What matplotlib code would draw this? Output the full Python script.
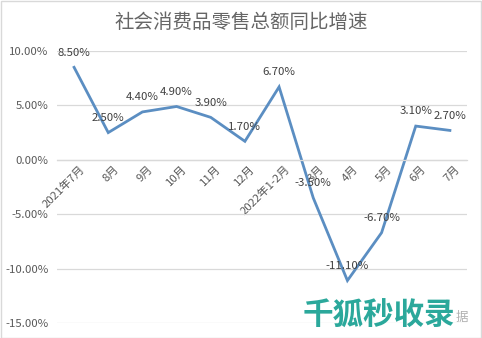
import matplotlib
matplotlib.use("Agg")
import matplotlib.pyplot as plt
import matplotlib.transforms as mtransforms
from matplotlib.ticker import FuncFormatter

plt.rcParams['font.family'] = ['Noto Sans CJK SC', 'DejaVu Sans']

categories = ["2021年7月", "8月", "9月", "10月", "11月", "12月", "2022年1-2月",
              "3月", "4月", "5月", "6月", "7月"]
values = [8.5, 2.5, 4.4, 4.9, 3.9, 1.7, 6.7, -3.5, -11.1, -6.7, 3.1, 2.7]
y_ticks = [-15, -10, -5, 0, 5, 10]
title = "社会消费品零售总额同比增速"

W, H = 482, 338
fig = plt.figure(figsize=(W / 100, H / 100), dpi=100)
fig.patch.set_facecolor("white")

# figure border
border = plt.Rectangle((0.5 / W, 0.5 / H), 1 - 1.5 / W, 1 - 1.5 / H, transform=fig.transFigure,
                       fill=False, edgecolor="#d9d9d9", linewidth=1.0)
fig.patches.append(border)

left, right = 57 / W, 467 / W
top_px, bot_px = 51, 323
ax = fig.add_axes([left, (H - bot_px) / H, right - left, (bot_px - top_px) / H])

x = list(range(len(categories)))
ax.plot(x, values, color="#5B8EC2", linewidth=2.0, solid_joinstyle="miter")

ax.set_xlim(-0.5, len(categories) - 0.5)
ax.set_ylim(-15, 10)
ax.set_yticks(y_ticks)
ax.yaxis.set_major_formatter(FuncFormatter(lambda v, p: f"{v:.2f}%"))
ax.grid(axis="y", color="#d9d9d9", linewidth=0.9)
ax.set_axisbelow(True)
for s in ["top", "right", "left"]:
    ax.spines[s].set_visible(False)
ax.spines["bottom"].set_position(("data", 0))
ax.spines["bottom"].set_color("#d9d9d9")
ax.spines["bottom"].set_linewidth(0.9)
ax.tick_params(axis="y", length=0, labelsize=8.2, labelcolor="#595959", pad=6)
ax.tick_params(axis="x", length=0, labelsize=8.2, labelcolor="#595959", pad=3)
ax.set_xticks(x)
ax.set_xticklabels(categories, rotation=45, ha="right", va="top", rotation_mode="anchor")
offset = mtransforms.ScaledTranslation(5 / 100, 0, fig.dpi_scale_trans)
for lbl in ax.get_xticklabels():
    lbl.set_transform(lbl.get_transform() + offset)

for xi, v in zip(x, values):
    ax.annotate(f"{v:.2f}%", (xi, v), xytext=(0, 7), textcoords="offset points",
                ha="center", va="bottom", fontsize=8.2, color="#404040")

fig.text(241 / W, 1 - 22 / H, title, ha="center", va="center", fontsize=14,
         color="#666666")

# watermark
fig.text(303 / W, 1 - 316 / H, "千狐秒收录", ha="left", va="center", fontsize=22,
         fontweight="heavy", color="#2BA89B", style="italic")
fig.text(462 / W, 1 - 318 / H, "据", ha="center", va="center", fontsize=9,
         color="#b0b0b0")

fig.savefig("out.png", dpi=100)
